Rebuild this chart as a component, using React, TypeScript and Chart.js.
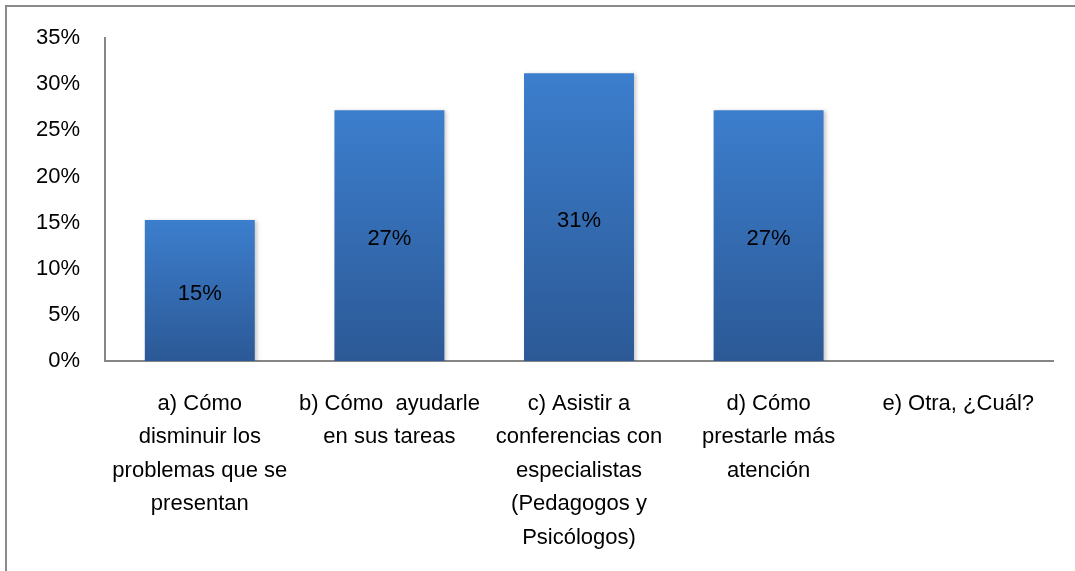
import React, { useEffect, useRef } from "react";
import { Chart, registerables } from "chart.js";

Chart.register(...registerables);

const categories: string[][] = [
  ["a) Cómo", "disminuir los", "problemas que se", "presentan"],
  ["b) Cómo  ayudarle", "en sus tareas"],
  ["c) Asistir a", "conferencias con", "especialistas", "(Pedagogos y", "Psicólogos)"],
  ["d) Cómo", "prestarle más", "atención"],
  ["e) Otra, ¿Cuál?"],
];
const values: number[] = [15.3, 27.2, 31.2, 27.2, 0];
const valueLabels: string[] = ["15%", "27%", "31%", "27%", ""];
const yMax = 35;
const yStep = 5;

const FONT = "'Liberation Sans', Arial, sans-serif";

const barLabelPlugin = {
  id: "barLabels",
  afterDraw(chart: any) {
    const ctx = chart.ctx;
    const meta = chart.getDatasetMeta(0);
    ctx.save();
    ctx.font = `22px ${FONT}`;
    ctx.fillStyle = "#000";
    ctx.textAlign = "center";
    ctx.textBaseline = "middle";
    meta.data.forEach((el: any, i: number) => {
      const txt = valueLabels[i];
      if (!txt) return;
      const p = el.getProps(["x", "y", "base"], true);
      ctx.fillText(txt, p.x, (p.y + p.base) / 2 + 3.5);
    });
    ctx.restore();
  },
};

const shadowPlugin = {
  id: "barShadow",
  beforeDatasetsDraw(chart: any) {
    const ctx = chart.ctx;
    ctx.save();
    ctx.shadowColor = "rgba(0,0,0,0.22)";
    ctx.shadowBlur = 4;
    ctx.shadowOffsetX = 2;
    ctx.shadowOffsetY = 1;
  },
  afterDatasetsDraw(chart: any) {
    chart.ctx.restore();
  },
};

export default function App() {
  const ref = useRef<HTMLCanvasElement | null>(null);

  useEffect(() => {
    if (!ref.current) return;
    const chart = new Chart(ref.current, {
      type: "bar",
      data: {
        labels: categories,
        datasets: [
          {
            data: values,
            backgroundColor: (c: any) => {
              const chart = c.chart;
              const ys = chart.scales?.y;
              if (!chart.chartArea || !ys || c.raw == null) return "#3570B5";
              const top = ys.getPixelForValue(c.raw);
              const base = ys.getPixelForValue(0);
              if (!isFinite(top) || !isFinite(base) || top === base) return "#3570B5";
              const g = chart.ctx.createLinearGradient(0, top, 0, base);
              g.addColorStop(0, "#3C7ECD");
              g.addColorStop(1, "#2C5996");
              return g;
            },
            borderWidth: 0,
            barPercentage: 0.58,
            categoryPercentage: 1,
          },
        ],
      },
      options: {
        responsive: false,
        animation: false,
        layout: { padding: { top: 35, right: 22, left: 0, bottom: 0 } },
        plugins: {
          legend: { display: false },
          title: { display: false },
          tooltip: { enabled: false },
        },
        scales: {
          x: {
            grid: { display: false, drawTicks: false },
            border: { display: true, color: "#868686", width: 2 },
            ticks: {
              color: "#000",
              font: { family: FONT, size: 22, lineHeight: 1.523 },
              padding: 26,
              maxRotation: 0,
              minRotation: 0,
              autoSkip: false,
            },
            afterFit(scale: any) {
              scale.height = 210;
            },
          },
          y: {
            min: 0,
            max: yMax,
            grid: { display: false, drawTicks: false },
            border: { display: true, color: "#868686", width: 2 },
            ticks: {
              stepSize: yStep,
              color: "#000",
              font: { family: FONT, size: 22 },
              padding: 25,
              callback: (v: any) => `${v}%`,
            },
            afterFit(scale: any) {
              scale.width = 105;
            },
          },
        },
      },
      plugins: [shadowPlugin, barLabelPlugin],
    });
    return () => chart.destroy();
  }, []);

  return (
    <div
      style={{
        position: "fixed",
        left: 0,
        top: 0,
        width: 1075,
        height: 571,
        overflow: "hidden",
        background: "#fff",
      }}
    >
      <div
        style={{
          position: "absolute",
          left: 5,
          top: 5,
          width: 1200,
          height: 700,
          border: "2px solid #8a8a8a",
        }}
      />
      <canvas
        ref={ref}
        width={1075}
        height={571}
        style={{ position: "absolute", left: 0, top: 0, width: 1075, height: 571 }}
      />
    </div>
  );
}
